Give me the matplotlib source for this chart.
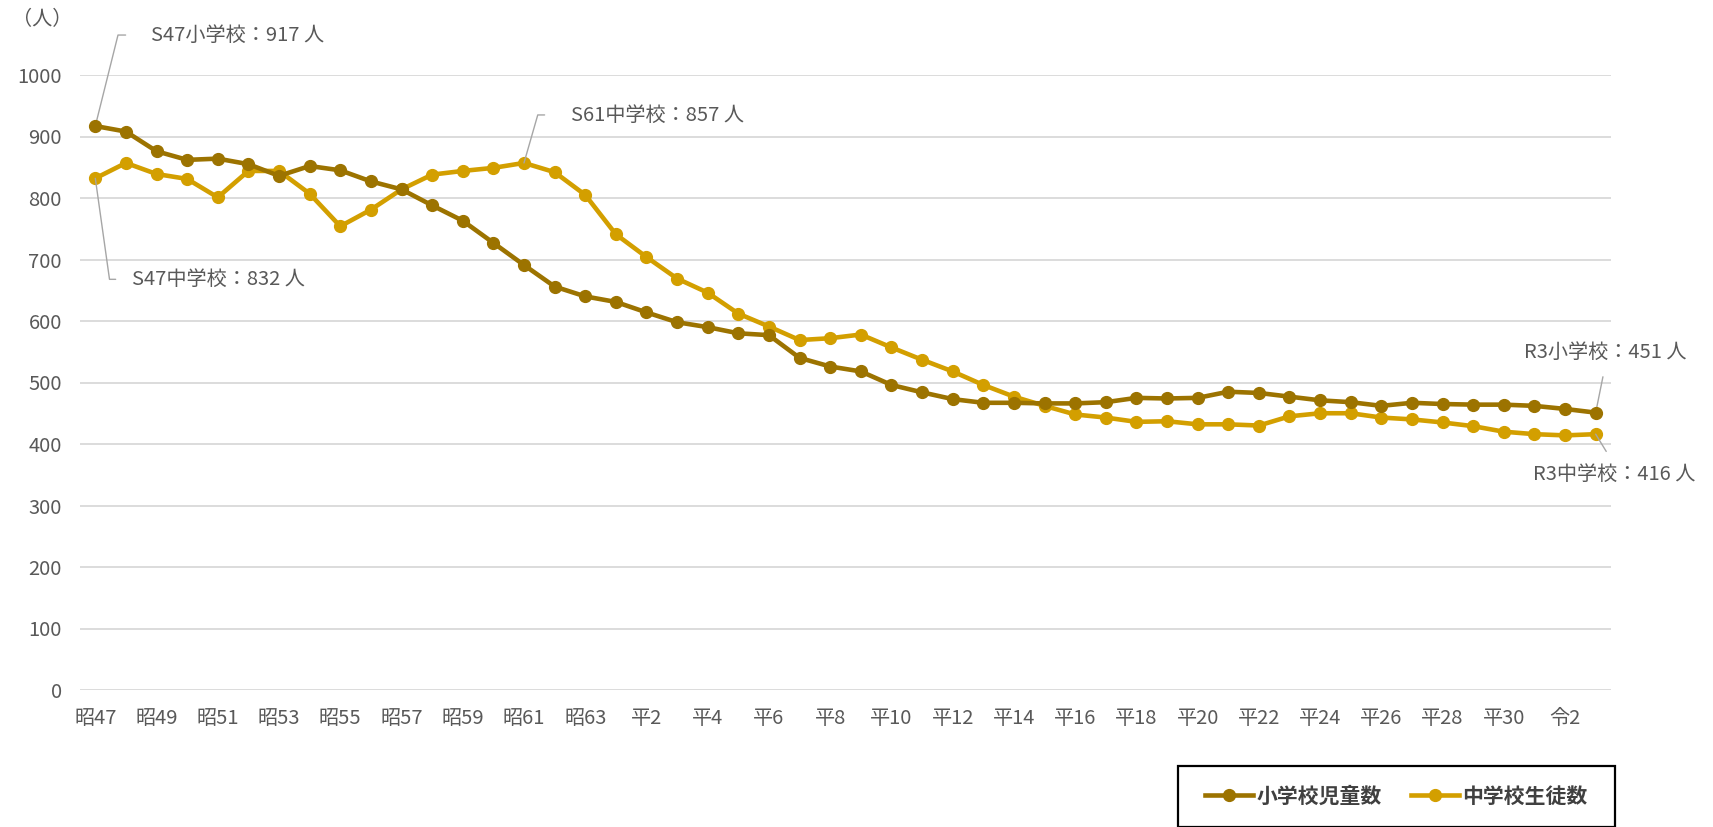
import matplotlib
matplotlib.use("Agg")
import matplotlib.pyplot as plt
from matplotlib.patches import Rectangle
from matplotlib.lines import Line2D

plt.rcParams['font.family'] = ['Noto Sans CJK JP', 'DejaVu Sans']

years = ["昭47", "昭48", "昭49", "昭50", "昭51", "昭52", "昭53", "昭54", "昭55", "昭56",
         "昭57", "昭58", "昭59", "昭60", "昭61", "昭62", "昭63", "平1", "平2", "平3",
         "平4", "平5", "平6", "平7", "平8", "平9", "平10", "平11", "平12", "平13",
         "平14", "平15", "平16", "平17", "平18", "平19", "平20", "平21", "平22", "平23",
         "平24", "平25", "平26", "平27", "平28", "平29", "平30", "令1", "令2", "令3"]

elementary = [917, 908, 876, 862, 864, 855, 836, 852, 845, 827,
              814, 788, 763, 727, 691, 656, 640, 631, 614, 598,
              590, 580, 577, 540, 526, 518, 496, 484, 473, 467,
              467, 466, 466, 468, 475, 474, 475, 485, 483, 477,
              471, 468, 462, 467, 465, 464, 464, 462, 457, 451]

junior = [832, 857, 839, 831, 801, 844, 844, 807, 754, 781,
          814, 838, 844, 849, 857, 842, 805, 741, 704, 669,
          646, 612, 591, 569, 572, 578, 557, 537, 518, 496,
          477, 462, 448, 443, 436, 437, 432, 432, 430, 445,
          450, 450, 443, 440, 435, 429, 420, 416, 414, 416]

series_names = ["小学校児童数", "中学校生徒数"]
c_elem = "#9C7300"
c_jun = "#D39F00"
txt = "#595959"
grid_c = "#d9d9d9"

W, H = 1713, 827
fig = plt.figure(figsize=(W / 100, H / 100), dpi=100)
ax = fig.add_axes([80 / W, (H - 690) / H, (1611 - 80) / W, (690 - 75) / H])

x = list(range(len(years)))
ax.plot(x, elementary, color=c_elem, lw=3.3, marker='o', ms=8.5, zorder=4, label=series_names[0])
ax.plot(x, junior, color=c_jun, lw=3.3, marker='o', ms=8.5, zorder=3, label=series_names[1])

ax.set_xlim(-0.5, len(years) - 0.5)
ax.set_ylim(0, 1000)
ax.set_yticks(range(0, 1001, 100))
ax.set_xticks(x[::2])
ax.set_xticklabels(years[::2])
ax.tick_params(axis='both', length=0, labelsize=14.5, colors=txt)
ax.tick_params(axis='y', pad=13)
ax.tick_params(axis='x', pad=13)
ax.grid(axis='y', color=grid_c, lw=1.3)
ax.set_axisbelow(True)
for s in ax.spines.values():
    s.set_visible(False)

fig.text(12 / W, 1 - 20 / H, "（人）", fontsize=14.5, color=txt, va='center', ha='left')

lead = dict(arrowstyle='-', color='#a6a6a6', lw=1.0, shrinkB=0)
fs_ann = 14.5

ax.annotate("S47小学校：917 人", xy=(0, elementary[0]), xytext=(56, 91),
            textcoords='offset pixels', ha='left', va='center', fontsize=fs_ann, color=txt,
            arrowprops=dict(lead, connectionstyle='angle,angleA=0,angleB=76',
                            relpos=(0, 0.5), shrinkA=16.5))
ax.annotate("S47中学校：832 人", xy=(0, junior[0]), xytext=(37, -101),
            textcoords='offset pixels', ha='left', va='center', fontsize=fs_ann, color=txt,
            arrowprops=dict(lead, connectionstyle='angle,angleA=0,angleB=-82',
                            relpos=(0, 0.5), shrinkA=10))
ax.annotate("S61中学校：857 人", xy=(14, junior[14]), xytext=(47, 48),
            textcoords='offset pixels', ha='left', va='center', fontsize=fs_ann, color=txt,
            arrowprops=dict(lead, connectionstyle='angle,angleA=0,angleB=74',
                            relpos=(0, 0.5), shrinkA=17))
ax.annotate("R3小学校：451 人", xy=(49, elementary[49]), xytext=(10, 60),
            textcoords='offset pixels', ha='center', va='center', fontsize=fs_ann, color=txt,
            arrowprops=dict(lead, relpos=(0.5, 0.0), shrinkA=8))
ax.annotate("R3中学校：416 人", xy=(49, junior[49]), xytext=(18, -40),
            textcoords='offset pixels', ha='center', va='center', fontsize=fs_ann, color=txt,
            arrowprops=dict(lead, relpos=(0.5, 1.0), shrinkA=8))

# legend box
fig.patches.append(Rectangle((1178 / W, 0), (1615 - 1178) / W, (H - 766) / H,
                             transform=fig.transFigure, fill=False, edgecolor='black',
                             lw=1.6, clip_on=False))
handles = [Line2D([], [], color=c_elem, lw=3.3, marker='o', ms=8.5),
           Line2D([], [], color=c_jun, lw=3.3, marker='o', ms=8.5)]
fig.legend(handles, series_names, loc='center', ncol=2, frameon=False,
           bbox_to_anchor=(1396 / W, 1 - 796 / H),
           prop=dict(weight='bold', size=15), labelcolor='#404040',
           handlelength=2.3, handletextpad=0.15, columnspacing=1.4)

fig.savefig("out.png", dpi=100)
